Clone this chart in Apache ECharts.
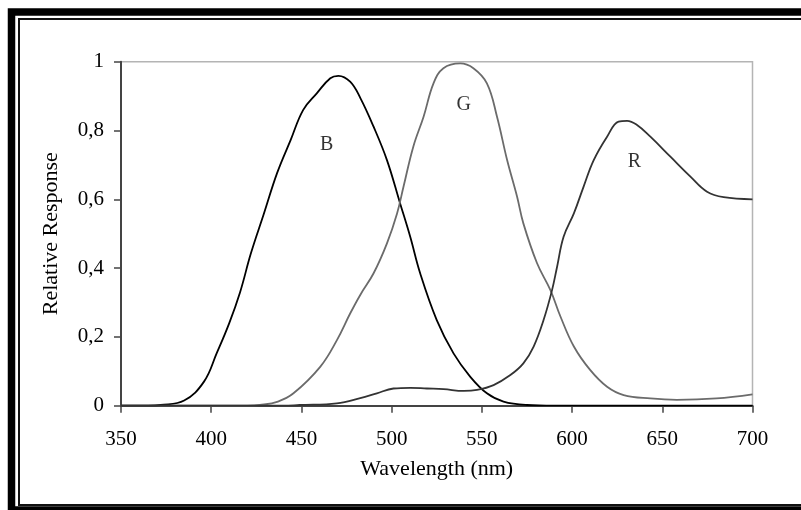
<!DOCTYPE html>
<html>
<head>
<meta charset="utf-8">
<script src="https://cdn.jsdelivr.net/npm/echarts@6/dist/echarts.min.js"></script>
<style>
html, body { margin: 0; padding: 0; background: #fff; }
#chart { width: 801px; height: 510px; }
</style>
</head>
<body>
<div id="chart"></div>
<script>
// spectral response curves: [wavelength nm, relative response]
var curveB = [
    [350, 0], [365, 0], [372, 0.002], [385, 0.015], [396, 0.07], [403, 0.152],
    [410, 0.24], [416, 0.33], [422, 0.443], [429, 0.555], [436.5, 0.676],
    [444, 0.772], [451, 0.86], [458.5, 0.908], [466, 0.952], [470.5, 0.959],
    [477, 0.942], [482.6, 0.895], [490, 0.811], [497.4, 0.714], [504.7, 0.588],
    [510.3, 0.491], [515.8, 0.385], [525, 0.249], [534.3, 0.152], [543.6, 0.084],
    [552.8, 0.036], [562, 0.012], [575, 0.002], [590, 0], [700, 0]
];
var curveG = [
    [350, 0], [420, 0], [427, 0.002], [437, 0.012], [445.6, 0.036], [460.4, 0.113],
    [469.6, 0.19], [477, 0.268], [482.6, 0.322], [490, 0.385], [497.4, 0.472],
    [503, 0.559], [506.6, 0.637], [512, 0.753], [517.7, 0.84], [523.2, 0.937],
    [528.7, 0.981], [538, 0.995], [545.3, 0.981], [552.8, 0.937], [558.4, 0.84],
    [564, 0.714], [569.5, 0.608], [573, 0.53], [580.6, 0.414], [588, 0.336],
    [593.5, 0.26], [601, 0.172], [610, 0.104], [619.4, 0.055], [628.6, 0.031],
    [643.4, 0.021], [658, 0.017], [680, 0.021], [700, 0.033]
];
var curveR = [
    [350, 0], [440, 0], [449, 0.002], [469.6, 0.007], [482.6, 0.022],
    [491.8, 0.036], [501, 0.05], [510.3, 0.052], [519.5, 0.05], [528.8, 0.048],
    [540, 0.043], [547.3, 0.046], [556.5, 0.06], [565.8, 0.089], [573, 0.123],
    [578.7, 0.172], [584.2, 0.249], [588.9, 0.336], [591.7, 0.404], [595.3, 0.491],
    [601, 0.559], [606.4, 0.637], [612, 0.714], [619.4, 0.782], [625.8, 0.826],
    [630.5, 0.828], [636, 0.816], [643.4, 0.782], [654.5, 0.724], [665.6, 0.666],
    [674.8, 0.622], [684, 0.606], [700, 0.6]
];
var curveNames = ['B', 'G', 'R'];
var curveColors = ['#000000', '#6b6b6b', '#333333'];
var labelSpots = [[464, 0.758], [540, 0.874], [634.6, 0.709]];

var xTicks = [350, 400, 450, 500, 550, 600, 650, 700];

var chart = echarts.init(document.getElementById('chart'), null, { renderer: 'canvas' });

var font = '"Liberation Serif", "DejaVu Serif", serif';

function lineSeries(name, data, color) {
    return {
        name: name,
        type: 'line',
        data: data,
        smooth: 0.4,
        showSymbol: false,
        symbol: 'none',
        silent: true,
        lineStyle: { color: color, width: 1.8 },
        z: 3
    };
}

var option = {
    backgroundColor: '#ffffff',
    animation: false,
    textStyle: { fontFamily: font },
    grid: {
        left: 121, right: 48.5, top: 61.7, bottom: 104.3,
        show: true,
        borderColor: '#b4b4b4',
        borderWidth: 1.5,
        backgroundColor: 'transparent'
    },
    xAxis: {
        type: 'value',
        min: xTicks[0],
        max: xTicks[xTicks.length - 1],
        interval: 50,
        name: 'Wavelength (nm)',
        nameLocation: 'middle',
        nameGap: 53,
        nameTextStyle: { fontFamily: font, fontSize: 22, color: '#000' },
        axisLine: { lineStyle: { color: '#444', width: 2 } },
        axisTick: { show: true, length: 7, inside: false, lineStyle: { color: '#444', width: 1.5 } },
        axisLabel: { fontFamily: font, fontSize: 21, color: '#000', margin: 23 },
        splitLine: { show: false }
    },
    yAxis: {
        type: 'value',
        min: 0,
        max: 1,
        interval: 0.2,
        name: 'Relative Response',
        nameLocation: 'middle',
        nameGap: 59,
        nameTextStyle: { fontFamily: font, fontSize: 22, color: '#000' },
        axisLine: { show: true, lineStyle: { color: '#444', width: 2 } },
        axisTick: { show: true, length: 7, lineStyle: { color: '#444', width: 1.5 } },
        axisLabel: {
            fontFamily: font, fontSize: 21, color: '#000', margin: 17,
            formatter: function (v) { return String(Math.round(v * 10) / 10).replace('.', ','); }
        },
        splitLine: { show: false }
    },
    graphic: [
        {
            type: 'rect', silent: true, z: 10,
            shape: { x: 11.5, y: 12, width: 900, height: 498 },
            style: { fill: 'none', stroke: '#000', lineWidth: 7.5 }
        },
        {
            type: 'rect', silent: true, z: 10,
            shape: { x: 19, y: 19, width: 900, height: 486 },
            style: { fill: 'none', stroke: '#111', lineWidth: 2 }
        }
    ],
    series: [
        lineSeries(curveNames[0], curveB, curveColors[0]),
        lineSeries(curveNames[1], curveG, curveColors[1]),
        lineSeries(curveNames[2], curveR, curveColors[2]),
        {
            type: 'scatter',
            silent: true,
            symbolSize: 0,
            data: labelSpots.map(function (p, i) { return { value: p, name: curveNames[i] }; }),
            label: {
                show: true,
                position: 'inside',
                formatter: '{b}',
                fontFamily: font,
                fontSize: 20,
                color: '#000'
            },
            z: 4
        }
    ]
};

chart.setOption(option);
</script>
</body>
</html>
